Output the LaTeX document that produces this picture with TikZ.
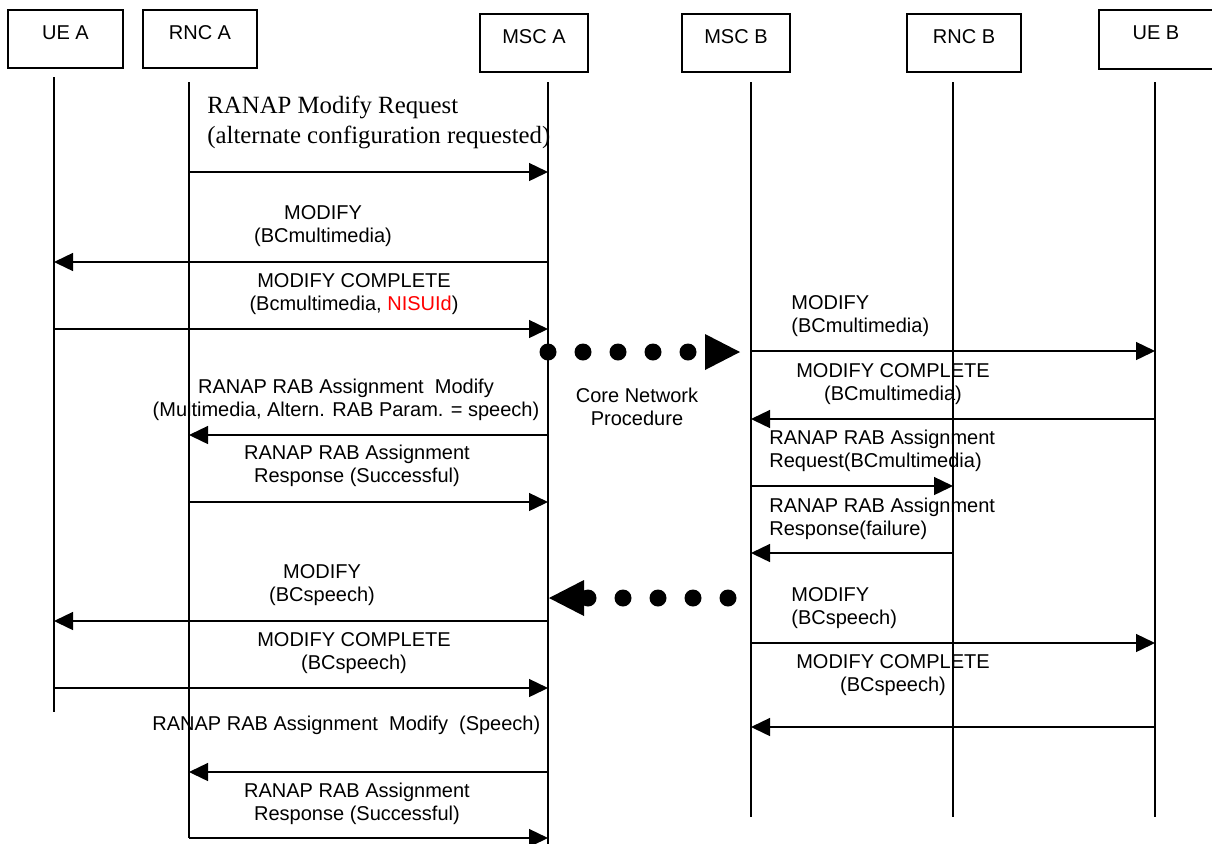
\documentclass[tikz,border=0pt]{standalone}
\usepackage{fontspec}
\setmainfont{Liberation Sans}
\newfontfamily\lbserif{Liberation Serif}
\usetikzlibrary{arrows.meta}
\begin{document}
\begin{tikzpicture}[x=0.5pt,y=-0.5pt,
  lbl/.style={inner sep=0pt, font=\fontsize{10pt}{11.5pt}\selectfont, align=center},
  lbll/.style={lbl, align=left, anchor=west},
  entity/.style={draw, line width=0.7pt, inner sep=0pt, font=\fontsize{10pt}{11.5pt}\selectfont, text height=6pt, text depth=6pt},
  life/.style={line width=0.7pt},
  msg/.style={line width=0.7pt, -{Triangle[length=9.5pt,width=9pt]}},
  cnp/.style={line width=8.5pt, line cap=round, dash pattern=on 0pt off 17.5pt, -{Triangle[length=17.5pt,width=18pt,line width=0pt]}}
]
\useasboundingbox (0,0) rectangle (1212,843);

% entities
\node[entity, minimum width=57.5pt, minimum height=29pt] (ueA)  at (65.5,39) {UE A};
\node[entity, minimum width=57pt,   minimum height=29pt] (rncA) at (200,39)  {RNC A};
\node[entity, minimum width=54pt,   minimum height=29pt] (mscA) at (534,43)  {MSC A};
\node[entity, minimum width=54pt,   minimum height=29pt] (mscB) at (736,43)  {MSC B};
\node[entity, minimum width=57pt,   minimum height=29pt] (rncB) at (964,43)  {RNC B};
\node[entity, minimum width=57pt,   minimum height=29.5pt] (ueB) at (1156,39.5) {UE B};

% lifelines
\coordinate (ueAt) at (54,77);    \coordinate (ueAb) at (54,712);
\coordinate (rncAt) at (189,82);  \coordinate (rncAb) at (189,838);
\coordinate (mscAt) at (548,82);  \coordinate (mscAb) at (548,845);
\coordinate (mscBt) at (751,82);  \coordinate (mscBb) at (751,817);
\coordinate (rncBt) at (953,82);  \coordinate (rncBb) at (953,817);
\coordinate (ueBt) at (1155,82);  \coordinate (ueBb) at (1155,817);
\draw[life] (ueAt) -- (ueAb);
\draw[life] (rncAt) -- (rncAb);
\draw[life] (mscAt) -- (mscAb);
\draw[life] (mscBt) -- (mscBb);
\draw[life] (rncBt) -- (rncBb);
\draw[life] (ueBt) -- (ueBb);

% left side messages
\coordinate (a1s) at (189,172); \coordinate (a1e) at (548,172);
\coordinate (a2s) at (548,262); \coordinate (a2e) at (54,262);
\coordinate (a3s) at (54,329);  \coordinate (a3e) at (548,329);
\coordinate (a4s) at (548,435); \coordinate (a4e) at (189,435);
\coordinate (a5s) at (189,502); \coordinate (a5e) at (548,502);
\coordinate (a6s) at (548,621); \coordinate (a6e) at (54,621);
\coordinate (a7s) at (54,688);  \coordinate (a7e) at (548,688);
\coordinate (a8s) at (548,772); \coordinate (a8e) at (189,772);
\coordinate (a9s) at (189,838); \coordinate (a9e) at (548,838);
\foreach \m in {a1,a2,a3,a4,a5,a6,a7,a8,a9} \draw[msg] (\m s) -- (\m e);

% right side messages
\coordinate (b1s) at (751,351);  \coordinate (b1e) at (1155,351);
\coordinate (b2s) at (1155,419); \coordinate (b2e) at (751,419);
\coordinate (b3s) at (751,486);  \coordinate (b3e) at (953,486);
\coordinate (b4s) at (953,553);  \coordinate (b4e) at (751,553);
\coordinate (b5s) at (751,643);  \coordinate (b5e) at (1155,643);
\coordinate (b6s) at (1155,727); \coordinate (b6e) at (751,727);
\foreach \m in {b1,b2,b3,b4,b5,b6} \draw[msg] (\m s) -- (\m e);

% core network procedure (dotted arrows)
\coordinate (d1s) at (548,352); \coordinate (d1e) at (740,352);
\coordinate (d2s) at (728,598); \coordinate (d2e) at (549,598);
\draw[cnp] (d1s) -- (d1e);
\draw[cnp] (d2s) -- (d2e);

% labels, left
\node[lbll, font=\lbserif\fontsize{12.4pt}{15pt}\selectfont] (t1) at (207,122)
  {RANAP Modify Request\\(alternate configuration requested)};
\node[lbl] (t2) at (323,226) {MODIFY\\(BCmultimedia)};
\node[lbl] (t3) at (354,294) {MODIFY COMPLETE\\(Bcmultimedia, \textcolor{red}{NISUId})};
\node[lbl] (t4) at (346,400) {RANAP RAB Assignment~ Modify\\(Multimedia, Altern. RAB Param. = speech)};
\node[lbl] (t5) at (357,466) {RANAP RAB Assignment\\Response (Successful)};
\node[lbl] (t6) at (322,585.5) {MODIFY\\(BCspeech)};
\node[lbl] (t7) at (354,653.5) {MODIFY COMPLETE\\(BCspeech)};
\node[lbll] (t8) at (152,725) {RANAP RAB Assignment~ Modify~ (Speech)};
\node[lbl] (t9) at (357,804) {RANAP RAB Assignment\\Response (Successful)};

% labels, right
\node[lbll] (u1) at (791,316) {MODIFY\\(BCmultimedia)};
\node[lbl]  (u2) at (893,384) {MODIFY COMPLETE\\(BCmultimedia)};
\node[lbll] (u3) at (769,450.5) {RANAP RAB Assignment\\Request(BCmultimedia)};
\node[lbll] (u4) at (769,518.5) {RANAP RAB Assignment\\Response(failure)};
\node[lbll] (u5) at (791,608.5) {MODIFY\\(BCspeech)};
\node[lbl]  (u6) at (893,675.5) {MODIFY COMPLETE\\(BCspeech)};

% middle
\node[lbl] (cn) at (637,406.5) {Core Network\\Procedure};
\end{tikzpicture}
\end{document}
